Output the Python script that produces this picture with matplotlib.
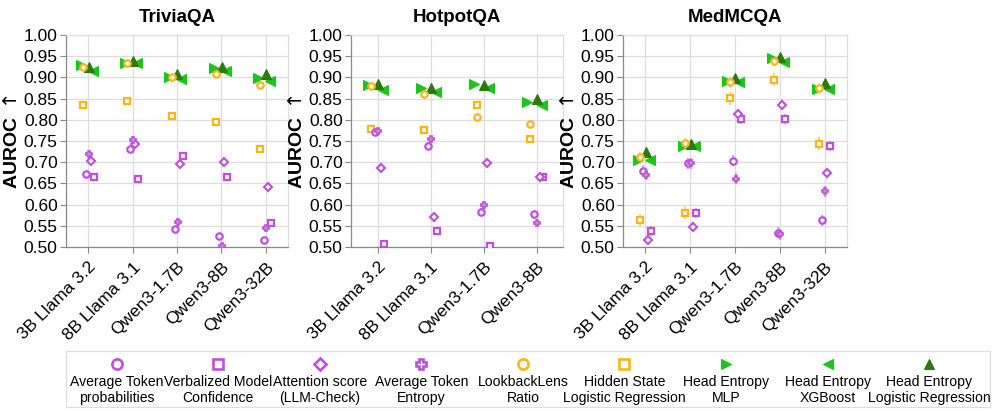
import matplotlib
matplotlib.use("Agg")
import matplotlib.pyplot as plt
import numpy as np

plt.rcParams['font.family'] = ['Liberation Sans', 'DejaVu Sans']

METHODS = ["Average Token\nprobabilities", "Verbalized Model\nConfidence",
           "Attention score\n(LLM-Check)", "Average Token\nEntropy",
           "LookbackLens\nRatio", "Hidden State\nLogistic Regression",
           "Head Entropy\nMLP", "Head Entropy\nXGBoost", "Head Entropy\nLogistic Regression"]

TRIVIA_MODELS = ["3B Llama 3.2", "8B Llama 3.1", "Qwen3-1.7B", "Qwen3-8B", "Qwen3-32B"]
HOTPOT_MODELS = ["3B Llama 3.2", "8B Llama 3.1", "Qwen3-1.7B", "Qwen3-8B"]
MED_MODELS = ["3B Llama 3.2", "8B Llama 3.1", "Qwen3-1.7B", "Qwen3-8B", "Qwen3-32B"]

# rows follow METHODS order
TRIVIA_AUROC = [
    [0.672, 0.731, 0.542, 0.525, 0.517],
    [0.664, 0.661, 0.714, 0.664, 0.557],
    [0.704, 0.743, 0.695, 0.701, 0.642],
    [0.719, 0.752, 0.559, 0.502, 0.545],
    [0.925, 0.935, 0.902, 0.909, 0.883],
    [0.835, 0.845, 0.809, 0.794, 0.731],
    [0.929, 0.935, 0.900, 0.921, 0.899],
    [0.915, 0.933, 0.897, 0.915, 0.891],
    [0.925, 0.939, 0.908, 0.924, 0.908],
]
HOTPOT_AUROC = [
    [0.772, 0.739, 0.583, 0.578],
    [0.506, 0.537, 0.502, 0.665],
    [0.687, 0.570, 0.698, 0.664],
    [0.773, 0.754, 0.598, 0.557],
    [0.880, 0.862, 0.806, 0.791],
    [0.778, 0.777, 0.836, 0.755],
    [0.882, 0.876, 0.884, 0.843],
    [0.870, 0.865, 0.876, 0.834],
    [0.884, 0.876, 0.883, 0.848],
]
MED_AUROC = [
    [0.680, 0.697, 0.704, 0.534, 0.563],
    [0.538, 0.581, 0.802, 0.802, 0.739],
    [0.517, 0.547, 0.813, 0.835, 0.674],
    [0.670, 0.697, 0.661, 0.530, 0.631],
    [0.713, 0.746, 0.888, 0.938, 0.874],
    [0.564, 0.581, 0.851, 0.895, 0.744],
    [0.705, 0.739, 0.892, 0.945, 0.872],
    [0.705, 0.739, 0.890, 0.937, 0.872],
    [0.725, 0.744, 0.898, 0.947, 0.886],
]
# error half-widths per method (estimated)
TRIVIA_ERR = [0.004, 0.003, 0.004, 0.004, 0.003, 0.003, 0.002, 0.002, 0.002]
HOTPOT_ERR = [0.008, 0.003, 0.010, 0.008, 0.006, 0.007, 0.002, 0.002, 0.002]
MED_ERR = [0.013, 0.012, 0.012, 0.013, 0.012, 0.015, 0.004, 0.004, 0.008]

PURPLE = '#bf4fdc'
ORANGE = '#fbb616'
GREEN = '#1ec41e'
DGREEN = '#2b7a0b'
STYLES = [
    dict(marker='o', color=PURPLE, ms=4.6, mew=1.6, hollow=True, off=-0.05),
    dict(marker='s', color=PURPLE, ms=4.6, mew=1.6, hollow=True, off=0.125),
    dict(marker='D', color=PURPLE, ms=3.8, mew=1.5, hollow=True, off=0.06),
    dict(marker='P', color=PURPLE, ms=4.8, mew=1.2, hollow=True, off=0.015),
    dict(marker='o', color=ORANGE, ms=4.6, mew=1.6, hollow=True, off=-0.12),
    dict(marker='s', color=ORANGE, ms=4.6, mew=1.6, hollow=True, off=-0.12),
    dict(marker='>', color=GREEN, ms=6.5, mew=0.8, hollow=False, off=-0.17),
    dict(marker='<', color=GREEN, ms=6.5, mew=0.8, hollow=False, off=0.10),
    dict(marker='^', color=DGREEN, ms=6.5, mew=0.8, hollow=False, off=0.01),
]
DRAW_ORDER = [6, 7, 8, 4, 5, 0, 1, 2, 3]

fig = plt.figure(figsize=(9.96, 4.11), dpi=100)
W, H = 996, 411

def px_axes(x0, x1, y0, y1):
    return fig.add_axes([x0 / W, 1 - y1 / H, (x1 - x0) / W, (y1 - y0) / H])

panels = [
    ("TriviaQA", TRIVIA_MODELS, TRIVIA_AUROC, TRIVIA_ERR, (66, 288)),
    ("HotpotQA", HOTPOT_MODELS, HOTPOT_AUROC, HOTPOT_ERR, (351, 563)),
    ("MedMCQA", MED_MODELS, MED_AUROC, MED_ERR, (623, 847)),
]

for title, models, vals, errs, (x0, x1) in panels:
    ax = px_axes(x0, x1, 35, 247)
    n = len(models)
    xs = np.arange(n)
    for k in DRAW_ORDER:
        st = STYLES[k]
        xx = xs + st['off']
        ax.errorbar(xx, vals[k], yerr=errs[k], fmt='none', ecolor=st['color'],
                    elinewidth=1.4, alpha=0.55, capsize=0, zorder=3)
        ax.plot(xx, vals[k], linestyle='none', marker=st['marker'], ms=st['ms'],
                mec=st['color'], mfc='white' if st['hollow'] else st['color'],
                mew=st['mew'], zorder=4)
    ax.set_xlim(-0.5, n - 0.5)
    ax.set_ylim(0.5, 1.0)
    ax.set_yticks(np.arange(0.5, 1.0001, 0.05))
    ax.set_yticklabels([f"{v:.2f}" for v in np.arange(0.5, 1.0001, 0.05)])
    ax.set_xticks(xs)
    ax.set_xticklabels(models, rotation=45, ha='right', va='top', rotation_mode='anchor')
    ax.tick_params(axis='both', labelsize=12.5, color='#888888', length=4, width=0.8, pad=2)
    ax.tick_params(axis='x', pad=5)
    ax.grid(True, color='#dddddd', linewidth=0.9, zorder=0)
    ax.set_axisbelow(True)
    for s in ['top', 'right']:
        ax.spines[s].set_color('#dddddd')
        ax.spines[s].set_linewidth(0.9)
    for s in ['left', 'bottom']:
        ax.spines[s].set_color('#888888')
        ax.spines[s].set_linewidth(0.9)
    ax.set_title(title, fontsize=13.5, fontweight='bold', pad=9)
    ax.set_ylabel("AUROC $\\uparrow$", fontsize=14, fontweight='bold', labelpad=2)

# legend
lax = px_axes(66, 990, 351, 407)
lax.set_xlim(-0.5, 8.6)
lax.set_ylim(407, 351)
lax.set_xticks([])
lax.set_yticks([])
for s in lax.spines.values():
    s.set_color('#dddddd')
    s.set_linewidth(0.9)
for i, (lab, st) in enumerate(zip(METHODS, STYLES)):
    lax.plot([i], [364], linestyle='none', marker=st['marker'],
             ms=st['ms'] * 1.6 if st['hollow'] else st['ms'] * 1.2,
             mec=st['color'], mfc='white' if st['hollow'] else st['color'],
             mew=1.9 if st['hollow'] else 0.8)
    lax.text(i, 390, lab, ha='center', va='center', fontsize=10.1,
             linespacing=1.1)

fig.savefig("out.png", dpi=100)
